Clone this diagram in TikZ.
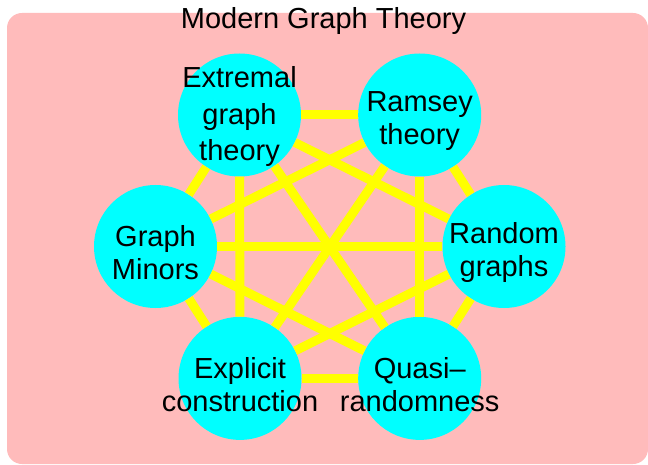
\documentclass[tikz,border=0pt]{standalone}
\usepackage{fontspec}
\setmainfont{Liberation Sans}
\definecolor{bgpink}{RGB}{255,187,187}
\definecolor{topiccyan}{RGB}{0,255,255}
\definecolor{linkyellow}{RGB}{255,255,0}

\begin{document}
\begin{tikzpicture}[x=1pt, y=-1pt,
  topic/.style={circle, fill=topiccyan, minimum size=123pt, inner sep=0pt},
  topictext/.style={align=center, inner sep=0pt, yshift=-6pt,
                    font=\fontsize{29}{33}\selectfont},
  link/.style={linkyellow, line width=9pt}]
  \useasboundingbox (0,0) rectangle (648,465);
  %--- background and title ---
  \fill[bgpink, rounded corners=15pt] (7,13) rectangle (648,464);
  \node[anchor=base, inner sep=0pt, font=\fontsize{29}{33}\selectfont] (title)
    at (323.5,29) {Modern Graph Theory};
  %--- topics ---
  \node[topic, label={[topictext, name=extremal-t, yshift=4pt,
        font=\fontsize{29}{36.5}\selectfont]center:Extremal\\graph\\theory}]
    (extremal) at (239.5,115) {};
  \node[topic, label={[topictext, name=ramsey-t]center:Ramsey\\theory}]
    (ramsey) at (419.7,115) {};
  \node[topic, label={[topictext, name=random-t]center:Random\\graphs}]
    (random) at (504,246.5) {};
  \node[topic, label={[topictext, name=quasi-t]center:Quasi--\\randomness}]
    (quasi) at (419.7,378.4) {};
  \node[topic, label={[topictext, name=explicit-t]center:Explicit\\construction}]
    (explicit) at (240,378.4) {};
  \node[topic, label={[topictext, name=minors-t]center:Graph\\Minors}]
    (minors) at (155.5,246.5) {};
  %--- every pair is linked ---
  \foreach \a/\b in {extremal/ramsey, extremal/random, extremal/quasi,
                     extremal/explicit, extremal/minors,
                     ramsey/random, ramsey/quasi, ramsey/explicit, ramsey/minors,
                     random/quasi, random/explicit, random/minors,
                     quasi/explicit, quasi/minors, explicit/minors} {
    \draw[link] (\a) -- (\b);
  }
\end{tikzpicture}
\end{document}
